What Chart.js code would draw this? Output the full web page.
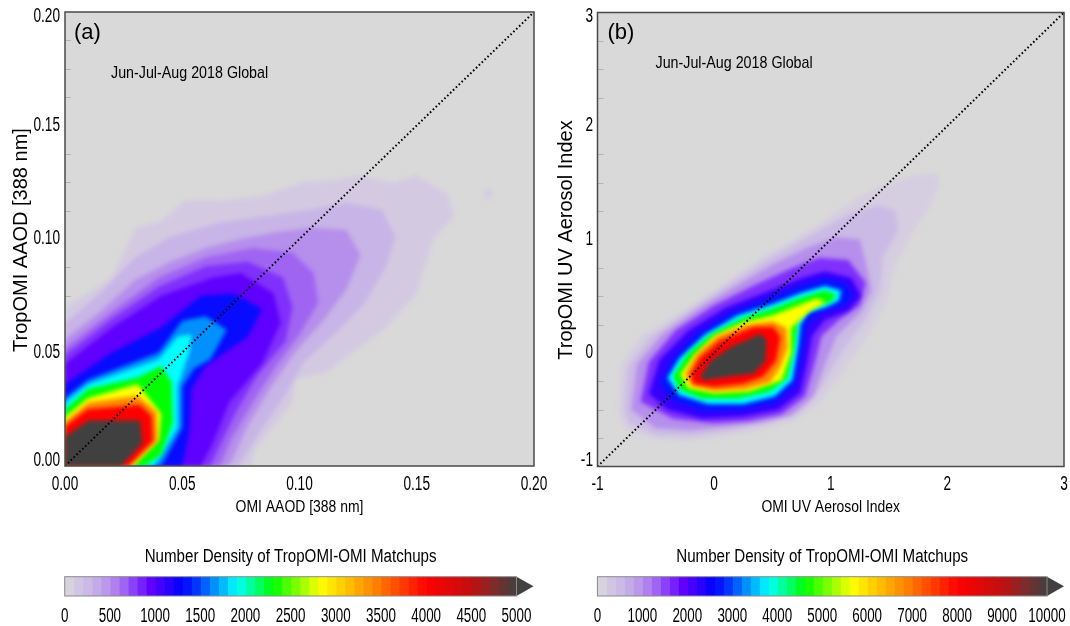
<!DOCTYPE html>
<html>
<head>
<meta charset="utf-8">
<script src="https://cdn.jsdelivr.net/npm/chart.js@4.4.1/dist/chart.umd.min.js"></script>
<style>
  html, body { margin: 0; padding: 0; background: #fff; width: 1070px; height: 626px; overflow: hidden; }
  canvas { position: absolute; }
</style>
</head>
<body>
<canvas id="panelA" width="560" height="530" style="left:0;top:0"></canvas>
<canvas id="panelB" width="530" height="530" style="left:540px;top:0"></canvas>
<canvas id="barA" width="560" height="96" style="left:0;top:530px"></canvas>
<canvas id="barB" width="530" height="96" style="left:540px;top:530px"></canvas>
<script>
// ---- axis ticks ----
const aaodTicks = [0, 0.05, 0.10, 0.15, 0.20];
const uvaiTicks = [-1, 0, 1, 2, 3];
const densityTicksA = [0, 500, 1000, 1500, 2000, 2500, 3000, 3500, 4000, 4500, 5000];
const densityTicksB = [0, 1000, 2000, 3000, 4000, 5000, 6000, 7000, 8000, 9000, 10000];

// ---- panel (a): filled density contours, [OMI AAOD, TropOMI AAOD] ----
const aaod100 = [[0,0.070],[0.020,0.083],[0.030,0.105],[0.041,0.108],[0.051,0.117],[0.067,0.117],[0.084,0.119],[0.101,0.125],[0.115,0.126],[0.125,0.128],[0.140,0.125],[0.150,0.128],[0.163,0.120],[0.166,0.110],[0.157,0.100],[0.150,0.076],[0.136,0.060],[0.111,0.041],[0.098,0.038],[0.097,0.028],[0.081,0.007],[0.079,0],[0,0]];
const aaodIsland = [[0.1785,0.1205],[0.1805,0.1225],[0.1825,0.1200],[0.1805,0.1170]];
const aaod300 = [[0,0.063],[0.015,0.076],[0.030,0.092],[0.045,0.101],[0.065,0.107],[0.085,0.110],[0.105,0.113],[0.120,0.116],[0.135,0.113],[0.141,0.101],[0.137,0.088],[0.128,0.072],[0.115,0.058],[0.102,0.046],[0.093,0.030],[0.083,0.015],[0.074,0],[0,0]];
const aaod500 = [[0,0.056],[0.015,0.068],[0.030,0.082],[0.045,0.090],[0.060,0.096],[0.075,0.100],[0.090,0.103],[0.105,0.105],[0.120,0.104],[0.126,0.093],[0.120,0.078],[0.110,0.064],[0.098,0.050],[0.088,0.035],[0.078,0.018],[0.070,0],[0,0]];
const aaod650 = [[0,0.052],[0.020,0.068],[0.040,0.083],[0.060,0.092],[0.080,0.096],[0.097,0.094],[0.106,0.085],[0.108,0.072],[0.100,0.058],[0.090,0.044],[0.080,0.028],[0.071,0.012],[0.066,0],[0,0]];
const aaod800 = [[0,0.049],[0.020,0.065],[0.040,0.079],[0.060,0.088],[0.078,0.090],[0.093,0.083],[0.097,0.070],[0.094,0.055],[0.082,0.040],[0.073,0.024],[0.066,0.009],[0.062,0],[0,0]];
const aaod950 = [[0,0.045],[0.020,0.061],[0.041,0.075],[0.063,0.083],[0.075,0.085],[0.089,0.076],[0.092,0.063],[0.084,0.045],[0.070,0.028],[0.063,0.010],[0.058,0],[0,0]];
const aaod1300 = [[0,0.036],[0.020,0.050],[0.041,0.061],[0.058,0.075],[0.072,0.076],[0.084,0.069],[0.078,0.057],[0.060,0.044],[0.054,0.034],[0.053,0.015],[0.050,0],[0,0]];
const aaod1650 = [[0,0.030],[0.010,0.038],[0.040,0.050],[0.050,0.064],[0.060,0.066],[0.069,0.060],[0.062,0.047],[0.055,0.043],[0.050,0.035],[0.050,0.017],[0.041,0],[0,0]];
const aaod1900 = [[0,0.028],[0.010,0.036],[0.040,0.047],[0.048,0.057],[0.054,0.058],[0.053,0.050],[0.048,0.035],[0.048,0.017],[0.038,0],[0,0]];
const aaod2300 = [[0,0.025],[0.010,0.034],[0.031,0.039],[0.041,0.044],[0.0455,0.037],[0.046,0.019],[0.041,0.005],[0.034,0],[0,0]];
const aaod2825 = [[0,0.0215],[0.010,0.030],[0.031,0.036],[0.041,0.023],[0.040,0.0115],[0.029,0],[0,0]];
const aaod3400 = [[0,0.0195],[0.010,0.028],[0.031,0.031],[0.039,0.024],[0.0395,0.011],[0.028,0],[0,0]];
const aaod4000 = [[0,0.0175],[0.0095,0.025],[0.032,0.027],[0.037,0.022],[0.0375,0.011],[0.027,0],[0,0]];
const aaod5000 = [[0,0.013],[0.010,0.020],[0.032,0.020],[0.033,0.010],[0.024,0],[0,0]];
const aaodRings  = [aaod100, aaodIsland, aaod300, aaod500, aaod650, aaod800, aaod950, aaod1300, aaod1650, aaod1900, aaod2300, aaod2825, aaod3400, aaod4000, aaod5000];
const aaodLevels = [100, 100, 300, 500, 650, 800, 950, 1300, 1650, 1900, 2300, 2825, 3400, 4000, 5000];

// ---- panel (b): filled density contours, [OMI UVAI, TropOMI UVAI] ----
const uvai150 = [[-0.82,-0.55],[-0.80,-0.10],[-0.63,0.15],[-0.25,0.38],[0.10,0.62],[0.40,0.84],[0.85,1.10],[1.20,1.35],[1.45,1.48],[1.70,1.57],[1.91,1.58],[1.93,1.48],[1.87,1.33],[1.70,1.05],[1.55,0.77],[1.49,0.48],[1.35,0.20],[1.12,-0.15],[0.90,-0.45],[0.68,-0.60],[0.40,-0.68],[0.10,-0.73],[-0.20,-0.78],[-0.50,-0.76],[-0.75,-0.68]];
const uvai500 = [[-0.77,-0.50],[-0.74,-0.12],[-0.55,0.14],[-0.20,0.38],[0.15,0.62],[0.45,0.82],[0.85,1.05],[1.15,1.22],[1.40,1.30],[1.55,1.26],[1.58,1.08],[1.45,0.85],[1.42,0.55],[1.30,0.30],[1.10,0.02],[0.92,-0.30],[0.74,-0.52],[0.45,-0.62],[0.15,-0.68],[-0.20,-0.73],[-0.50,-0.72],[-0.73,-0.62]];
const uvai1000 = [[-0.71,-0.50],[-0.66,-0.10],[-0.45,0.16],[-0.12,0.40],[0.20,0.60],[0.50,0.78],[0.80,0.93],[1.05,1.02],[1.25,1.00],[1.30,0.80],[1.35,0.55],[1.25,0.35],[1.05,0.15],[0.95,-0.10],[0.85,-0.38],[0.66,-0.55],[0.40,-0.61],[0.10,-0.65],[-0.20,-0.68],[-0.50,-0.66]];
const uvai1600 = [[-0.63,-0.43],[-0.56,-0.08],[-0.33,0.20],[0.00,0.42],[0.35,0.60],[0.65,0.74],[0.90,0.84],[1.15,0.82],[1.30,0.62],[1.25,0.42],[1.08,0.30],[0.92,0.15],[0.86,-0.10],[0.78,-0.38],[0.58,-0.54],[0.30,-0.60],[0.00,-0.62],[-0.35,-0.58]];
const uvai2200 = [[-0.56,-0.36],[-0.47,-0.06],[-0.22,0.20],[0.10,0.40],[0.45,0.54],[0.75,0.66],[0.95,0.72],[1.18,0.66],[1.26,0.50],[1.15,0.37],[0.95,0.29],[0.84,0.15],[0.80,-0.08],[0.74,-0.35],[0.55,-0.50],[0.25,-0.56],[-0.10,-0.58],[-0.40,-0.50]];
const uvai2700 = [[-0.47,-0.27],[-0.36,-0.05],[-0.15,0.17],[0.15,0.36],[0.45,0.48],[0.75,0.60],[0.95,0.66],[1.12,0.62],[1.19,0.50],[1.10,0.41],[0.92,0.36],[0.80,0.25],[0.76,0.00],[0.70,-0.28],[0.52,-0.44],[0.25,-0.50],[-0.10,-0.51],[-0.35,-0.42]];
const uvai3800 = [[-0.40,-0.22],[-0.30,-0.05],[-0.08,0.16],[0.20,0.33],[0.50,0.43],[0.75,0.53],[0.95,0.59],[1.09,0.55],[1.07,0.46],[0.95,0.40],[0.80,0.36],[0.74,0.25],[0.72,0.05],[0.67,-0.24],[0.52,-0.38],[0.25,-0.45],[-0.05,-0.45],[-0.30,-0.37]];
const uvai4600 = [[-0.35,-0.20],[-0.22,0.00],[-0.02,0.17],[0.25,0.31],[0.50,0.39],[0.75,0.49],[0.95,0.55],[1.05,0.51],[1.00,0.45],[0.85,0.40],[0.72,0.30],[0.69,0.05],[0.63,-0.22],[0.48,-0.34],[0.20,-0.40],[-0.10,-0.40],[-0.30,-0.32]];
const uvai5650 = [[-0.29,-0.19],[-0.17,-0.02],[0.00,0.15],[0.25,0.27],[0.50,0.33],[0.70,0.41],[0.88,0.48],[0.96,0.45],[0.82,0.37],[0.66,0.22],[0.66,0.00],[0.58,-0.24],[0.30,-0.34],[0.00,-0.355],[-0.22,-0.31]];
const uvai6800 = [[-0.25,-0.19],[-0.15,-0.01],[0.03,0.15],[0.28,0.25],[0.50,0.28],[0.62,0.22],[0.63,0.05],[0.57,-0.12],[0.48,-0.26],[0.27,-0.32],[0.00,-0.335],[-0.19,-0.29]];
const uvai8000 = [[-0.20,-0.18],[-0.12,-0.04],[0.05,0.11],[0.34,0.23],[0.51,0.23],[0.57,0.14],[0.53,-0.07],[0.42,-0.21],[0.25,-0.27],[0.00,-0.30],[-0.18,-0.27]];
const uvai10000 = [[-0.12,-0.21],[-0.03,-0.07],[0.14,0.05],[0.40,0.17],[0.45,0.11],[0.44,-0.07],[0.34,-0.18],[0.11,-0.21],[-0.09,-0.24]];
const uvaiRings  = [uvai150, uvai500, uvai1000, uvai1600, uvai2200, uvai2700, uvai3800, uvai4600, uvai5650, uvai6800, uvai8000, uvai10000];
const uvaiLevels = [150, 500, 1000, 1600, 2200, 2700, 3800, 4600, 5650, 6800, 8000, 10000];

// colour table of the density scale (fraction of max -> colour)
const cmapStops = [
  [0.00, '#d9d9d9'], [0.02, '#d3cae2'], [0.06, '#c8b4e6'], [0.10, '#b68eec'], [0.13, '#a064f2'],
  [0.16, '#8030fc'], [0.19, '#6000ff'], [0.25, '#0a00ff'], [0.28, '#0020ff'], [0.33, '#0090ff'],
  [0.38, '#00ffff'], [0.46, '#00ff00'], [0.565, '#ffff00'], [0.68, '#ff8800'], [0.80, '#ff0000'],
  [0.90, '#c01010'], [0.96, '#703030'], [1.00, '#404040']
];

const SANS = '"Liberation Sans", Arial, Helvetica, sans-serif';

function hexRgb(h) {
  return [parseInt(h.slice(1, 3), 16), parseInt(h.slice(3, 5), 16), parseInt(h.slice(5, 7), 16)];
}

function colorAt(t) {
  t = Math.max(0, Math.min(1, t));
  for (let i = 0; i < cmapStops.length - 1; i++) {
    const [t0, c0] = cmapStops[i];
    const [t1, c1] = cmapStops[i + 1];
    if (t <= t1) {
      const f = (t - t0) / (t1 - t0);
      const a = hexRgb(c0), b = hexRgb(c1);
      const rgb = a.map((v, k) => Math.round(v + (b[k] - v) * f));
      return 'rgb(' + rgb.join(',') + ')';
    }
  }
  return cmapStops[cmapStops.length - 1][1];
}

// the figure uses a tall condensed Helvetica: squeeze Liberation Sans horizontally
function narrowText(ctx, text, x, y, size, squeeze, align) {
  ctx.save();
  ctx.translate(x, y);
  ctx.scale(squeeze, 1);
  ctx.font = size + 'px ' + SANS;
  ctx.fillStyle = '#000';
  ctx.textAlign = align;
  ctx.textBaseline = 'middle';
  ctx.fillText(text, 0, 0);
  ctx.restore();
}

// contour rings -> line datasets filled as shapes
function ringDatasets(rings, levels, vmax) {
  const sets = rings.map((pts, i) => ({
    data: pts.map(p => ({ x: p[0], y: p[1] })),
    backgroundColor: colorAt(levels[i] / vmax),
    borderWidth: 0,
    pointRadius: 0,
    tension: 0,
    fill: 'shape'
  }));
  return sets.reverse(); // Chart.js paints the last dataset first, so outer rings go last
}

// background, soft contour edges, frame, ticks and labels
const panelDeco = {
  id: 'panelDeco',
  beforeDraw(chart, args, o) {
    const { ctx, chartArea: a, scales } = chart;
    ctx.save();
    ctx.fillStyle = '#d9d9d9';
    ctx.fillRect(a.left, a.top, a.right - a.left, a.bottom - a.top);
    // faint minor ticks inside the left frame, four per major step (under the contours)
    ctx.strokeStyle = '#b4b4b4';
    ctx.lineWidth = 1;
    ctx.beginPath();
    for (let i = 0; i < o.ticks.length - 1; i++) {
      const step = (o.ticks[i + 1] - o.ticks[i]) / 4;
      for (let k = 1; k < 4; k++) {
        const py = Math.round(scales.y.getPixelForValue(o.ticks[i] + k * step)) + 0.5;
        ctx.moveTo(a.left, py);
        ctx.lineTo(a.left + 6, py);
      }
    }
    ctx.stroke();
    ctx.restore();
  },
  beforeDatasetsDraw(chart) {
    chart.ctx.save();
    chart.ctx.filter = 'blur(2.2px)';
  },
  beforeDatasetDraw(chart, args) {
    if (args.index === 0) chart.ctx.filter = 'none'; // the 1:1 line stays sharp
  },
  afterDatasetsDraw(chart, args, o) {
    const { ctx, chartArea: a, scales } = chart;
    ctx.restore();

    ctx.save();
    ctx.strokeStyle = '#4a4a4a';
    ctx.lineWidth = 1.5;
    ctx.strokeRect(a.left, a.top, a.right - a.left, a.bottom - a.top);
    ctx.restore();

    // tick labels, end labels of the y axis pulled inside like the original
    const n = o.ticks.length;
    o.ticks.forEach((v, i) => {
      narrowText(ctx, o.fmt(v), scales.x.getPixelForValue(v), 485, 19.5, 0.70, 'center');
      let py = scales.y.getPixelForValue(v);
      if (i === 0) py -= 5.5;
      if (i === n - 1) py += 4.5;
      narrowText(ctx, o.fmt(v), a.left - o.yGap, py, 19.5, 0.70, 'right');
    });

    // axis titles
    narrowText(ctx, o.xTitle, (a.left + a.right) / 2, 507.5, 17, 0.82, 'center');
    ctx.save();
    ctx.translate(o.yTitleX, 240);
    ctx.rotate(-Math.PI / 2);
    ctx.font = '20px ' + SANS;
    ctx.fillStyle = '#000';
    ctx.textAlign = 'center';
    ctx.textBaseline = 'middle';
    ctx.fillText(o.yTitle, 0, 0);
    ctx.restore();

    // panel tag and period note
    ctx.save();
    ctx.font = '22px ' + SANS;
    ctx.fillStyle = '#000';
    ctx.textBaseline = 'middle';
    ctx.fillText(o.tag, a.left + o.tagDx, 33);
    ctx.restore();
    narrowText(ctx, 'Jun-Jul-Aug 2018 Global', a.left + o.noteDx, o.noteY, 17, 0.84, 'left');
  }
};

function makePanel(id, cfg) {
  const datasets = [{
    data: [{ x: cfg.min, y: cfg.min }, { x: cfg.max, y: cfg.max }],
    borderColor: '#000',
    borderWidth: 2,
    borderDash: [1.6, 2.4],
    pointRadius: 0,
    fill: false
  }].concat(ringDatasets(cfg.rings, cfg.levels, cfg.vmax));

  return new Chart(document.getElementById(id), {
    type: 'line',
    data: { datasets },
    options: {
      responsive: false,
      animation: false,
      events: [],
      devicePixelRatio: 1,
      layout: { padding: cfg.pad },
      plugins: {
        legend: { display: false },
        tooltip: { enabled: false },
        panelDeco: {
          ticks: cfg.ticks, fmt: cfg.fmt, xTitle: cfg.xTitle, yTitle: cfg.yTitle,
          yTitleX: cfg.yTitleX, yGap: cfg.yGap,
          tag: cfg.tag, tagDx: cfg.tagDx, noteDx: cfg.noteDx, noteY: cfg.noteY
        }
      },
      scales: {
        x: { type: 'linear', min: cfg.min, max: cfg.max, display: false },
        y: { type: 'linear', min: cfg.min, max: cfg.max, display: false }
      }
    },
    plugins: [panelDeco]
  });
}

makePanel('panelA', {
  rings: aaodRings, levels: aaodLevels, vmax: 5000,
  min: 0, max: 0.2, ticks: aaodTicks, fmt: v => v.toFixed(2),
  xTitle: 'OMI AAOD [388 nm]', yTitle: 'TropOMI AAOD [388 nm]',
  pad: { left: 65, right: 26, top: 12, bottom: 64 },
  yTitleX: 21, yGap: 5,
  tag: '(a)', tagDx: 9, noteDx: 46, noteY: 73
});

makePanel('panelB', {
  rings: uvaiRings, levels: uvaiLevels, vmax: 10000,
  min: -1, max: 3, ticks: uvaiTicks, fmt: v => String(v),
  xTitle: 'OMI UV Aerosol Index', yTitle: 'TropOMI UV Aerosol Index',
  pad: { left: 57.5, right: 6, top: 12.5, bottom: 63.5 },
  yTitleX: 26, yGap: 4.5,
  tag: '(b)', tagDx: 10, noteDx: 58, noteY: 63
});

// ---- colour bars ----
const cbCount = 50;

const barDeco = {
  id: 'barDeco',
  afterDatasetsDraw(chart, args, o) {
    const { ctx, chartArea: a, scales } = chart;
    const midY = (a.top + a.bottom) / 2;
    ctx.save();
    ctx.fillStyle = '#404040';
    ctx.beginPath();
    ctx.moveTo(a.right, a.top);
    ctx.lineTo(a.right + 17, midY);
    ctx.lineTo(a.right, a.bottom);
    ctx.closePath();
    ctx.fill();
    ctx.strokeStyle = '#8a8a8a';
    ctx.lineWidth = 1;
    ctx.strokeRect(a.left, a.top, a.right - a.left, a.bottom - a.top);
    ctx.restore();

    narrowText(ctx, 'Number Density of TropOMI-OMI Matchups', (a.left + a.right) / 2, 26.7, 18, 0.84, 'center');
    o.ticks.forEach(v => {
      narrowText(ctx, String(v), scales.x.getPixelForValue(v), 86.5, 20, 0.67, 'center');
    });
  }
};

function makeBar(id, vmax, ticks, pad) {
  const step = vmax / cbCount;
  const datasets = [];
  for (let i = 0; i < cbCount; i++) {
    datasets.push({
      data: [step],
      backgroundColor: colorAt((i + 0.5) / cbCount),
      borderWidth: 0,
      barPercentage: 1,
      categoryPercentage: 1,
      inflateAmount: 0.6
    });
  }
  return new Chart(document.getElementById(id), {
    type: 'bar',
    data: { labels: [''], datasets },
    options: {
      indexAxis: 'y',
      responsive: false,
      animation: false,
      events: [],
      devicePixelRatio: 1,
      layout: { padding: pad },
      plugins: {
        legend: { display: false },
        tooltip: { enabled: false },
        barDeco: { ticks }
      },
      scales: {
        x: { type: 'linear', stacked: true, min: 0, max: vmax, display: false },
        y: { stacked: true, display: false }
      }
    },
    plugins: [barDeco]
  });
}

makeBar('barA', 5000, densityTicksA, { left: 64.7, right: 43.5, top: 46.7, bottom: 30 });
makeBar('barB', 10000, densityTicksB, { left: 57.4, right: 23, top: 46.7, bottom: 30 });
</script>
</body>
</html>
